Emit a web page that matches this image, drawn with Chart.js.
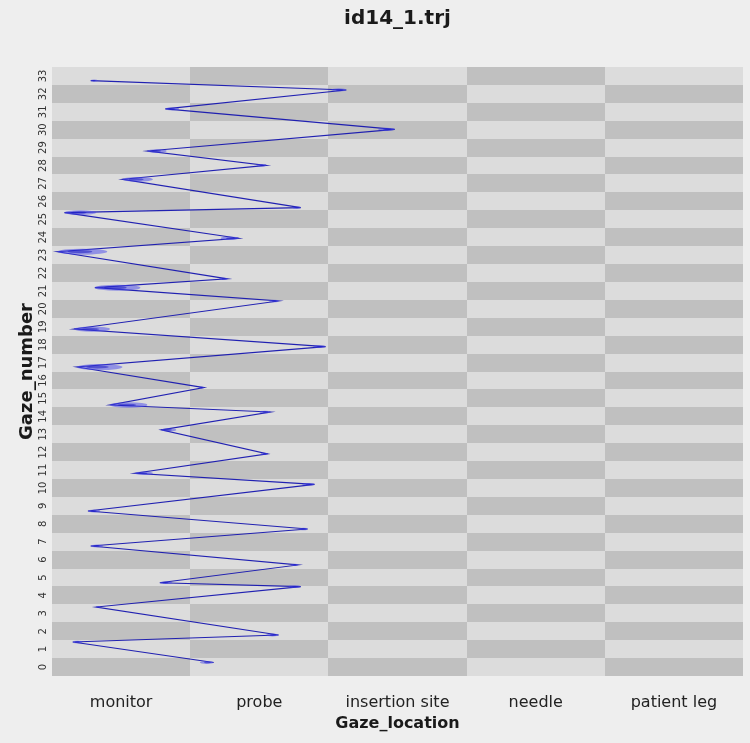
<!DOCTYPE html>
<html>
<head>
<meta charset="utf-8">
<title>id14_1.trj</title>
<script src="https://cdn.jsdelivr.net/npm/chart.js@4/dist/chart.umd.min.js"></script>
<style>
  html, body { margin: 0; padding: 0; background: #eeeeee; }
</style>
</head>
<body>
<canvas id="myChart" width="750" height="743"></canvas>
<script>
// categories on the x axis
const locations = ["monitor", "probe", "insertion site", "needle", "patient leg"];
// tick labels on the y axis
const gazeNumbers = [0, 1, 2, 3, 4, 5, 6, 7, 8, 9, 10, 11, 12, 13, 14, 15, 16,
  17, 18, 19, 20, 21, 22, 23, 24, 25, 26, 27, 28, 29, 30, 31, 32, 33];

// trajectory (x = location index, y = gaze number)
const gazeX = [0.67, -0.35, 1.14, -0.18, 1.30, 0.28, 1.28, -0.22, 1.35, -0.24,
  1.40, 0.10, 1.06, 0.29, 1.08, -0.08, 0.60, -0.32, 1.48, -0.34,
  1.14, -0.19, 0.77, -0.46, 0.85, -0.41, 1.30, 0.01, 1.05, 0.19,
  1.98, 0.32, 1.63, -0.22];
const gazeY = [0.25, 1.40, 1.79, 3.35, 4.49, 4.71, 5.70, 6.76, 7.71, 8.71,
  10.20, 10.82, 11.90, 13.24, 14.24, 14.63, 15.60, 16.75, 17.89, 18.87,
  20.44, 21.18, 21.67, 23.19, 23.94, 25.37, 25.65, 27.23, 28.01, 28.81,
  30.02, 31.16, 32.22, 32.74];
// length of the fixation smear at each point (in location units)
const fixation = [0.10, 0.07, 0.09, 0.03, 0.09, 0.09, 0.05, 0.09, 0.06, 0.09,
  0.09, 0.13, 0.05, 0.11, 0.08, 0.27, 0.04, 0.33, 0.09, 0.26,
  0.07, 0.33, 0.06, 0.36, 0.13, 0.23, 0.06, 0.22, 0.07, 0.14,
  0.12, 0.10, 0.11, 0.05];

const background = {
  id: 'background',
  beforeDraw(chart) {
    const ctx = chart.ctx;
    ctx.save();
    ctx.fillStyle = '#eeeeee';
    ctx.fillRect(0, 0, chart.width, chart.height);
    ctx.restore();
  }
};

// grey checkerboard behind the line, one cell per location / gaze number
const checkerboard = {
  id: 'checkerboard',
  beforeDatasetsDraw(chart) {
    const {ctx, scales: {x, y}} = chart;
    ctx.save();
    locations.forEach((loc, i) => {
      const x0 = Math.round(x.getPixelForValue(i - 0.5));
      const x1 = Math.round(x.getPixelForValue(i + 0.5));
      gazeNumbers.forEach(n => {
        const y0 = Math.round(y.getPixelForValue(n + 0.5));
        const y1 = Math.round(y.getPixelForValue(n - 0.5));
        ctx.fillStyle = (i + n) % 2 === 0 ? '#c0c0c0' : '#dcdcdc';
        ctx.fillRect(x0, y0, x1 - x0, y1 - y0);
      });
    });
    ctx.restore();
  }
};

// blue smears at the turning points
const blobs = {
  id: 'blobs',
  afterDatasetsDraw(chart) {
    const {ctx, scales: {x, y}} = chart;
    ctx.save();
    gazeX.forEach((gx, i) => {
      const dir = gx < 0.5 ? 1 : -1;
      const px = x.getPixelForValue(gx);
      const len = Math.abs(x.getPixelForValue(gx + fixation[i]) - px);
      const py = y.getPixelForValue(gazeY[i]);
      const ry = Math.min(3, 0.8 + len * 0.05);
      ctx.fillStyle = 'rgba(70,70,235,0.5)';
      ctx.beginPath();
      ctx.ellipse(px + dir * len / 2, py, len / 2, ry, 0, 0, Math.PI * 2);
      ctx.fill();
      ctx.fillStyle = 'rgba(20,20,190,0.5)';
      ctx.beginPath();
      ctx.ellipse(px + dir * len * 0.45, py, len / 4, ry / 2, 0, 0, Math.PI * 2);
      ctx.fill();
    });
    ctx.restore();
  }
};

new Chart("myChart", {
  type: "scatter",
  data: {
    datasets: [{
      data: gazeX.map((v, i) => ({x: v, y: gazeY[i]})),
      showLine: true,
      borderColor: "rgba(22,22,175,0.95)",
      borderWidth: 1.1,
      pointRadius: 0,
      tension: 0
    }]
  },
  options: {
    responsive: false,
    animation: false,
    layout: {padding: {top: 0, right: 7, bottom: 0, left: 0}},
    plugins: {
      legend: {display: false},
      tooltip: {enabled: false},
      title: {
        display: true,
        text: "id14_1.trj",
        fullSize: false,
        color: "#1a1a1a",
        font: {family: "DejaVu Sans", size: 20, weight: "bold"},
        padding: {top: 7, bottom: 36}
      }
    },
    scales: {
      x: {
        type: "linear",
        min: -0.5,
        max: 4.5,
        grid: {display: false, drawTicks: false},
        border: {display: false},
        afterBuildTicks: s => { s.ticks = locations.map((_, i) => ({value: i})); },
        afterFit: s => { s.height = 67; },
        ticks: {
          callback: v => locations[v],
          autoSkip: false,
          maxRotation: 0,
          padding: 17,
          color: "#222",
          font: {family: "DejaVu Sans", size: 16}
        },
        title: {
          display: true,
          text: "Gaze_location",
          color: "#1a1a1a",
          font: {family: "DejaVu Sans", size: 16, weight: "bold"},
          padding: {top: 0, bottom: 10}
        }
      },
      y: {
        type: "linear",
        min: -0.5,
        max: 33.5,
        grid: {display: false, drawTicks: false},
        border: {display: false},
        afterBuildTicks: s => { s.ticks = gazeNumbers.map(n => ({value: n})); },
        afterFit: s => { s.width = 52; },
        ticks: {
          autoSkip: false,
          minRotation: 90,
          maxRotation: 90,
          crossAlign: "center",
          padding: 2,
          color: "#333",
          font: {family: "DejaVu Sans", size: 10}
        },
        title: {
          display: true,
          text: "Gaze_number",
          color: "#1a1a1a",
          font: {family: "DejaVu Sans", size: 18, weight: "bold"},
          padding: {top: 17, bottom: 0}
        }
      }
    }
  },
  plugins: [background, checkerboard, blobs]
});
</script>
</body>
</html>
